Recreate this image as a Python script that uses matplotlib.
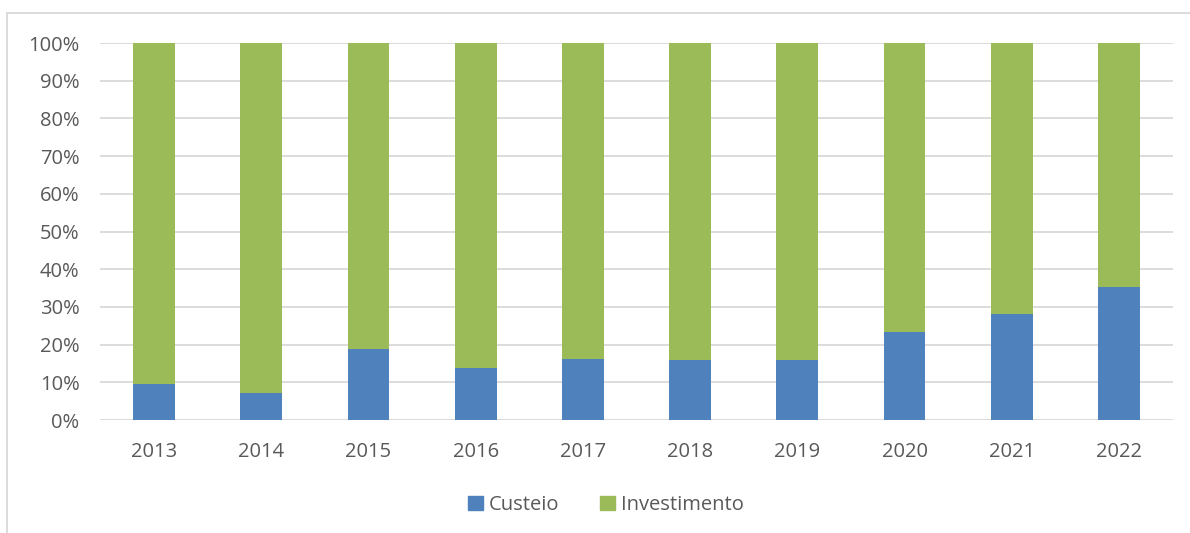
import matplotlib
matplotlib.use("Agg")
import matplotlib.pyplot as plt
from matplotlib.lines import Line2D
from matplotlib.patches import Patch
import numpy as np

years = ["2013", "2014", "2015", "2016", "2017", "2018", "2019", "2020", "2021", "2022"]
custeio = [9.6, 7.1, 18.8, 13.9, 16.1, 15.8, 16.0, 23.3, 28.2, 35.4]
investimento = [100 - c for c in custeio]

blue = "#4F81BD"
green = "#9BBB59"
text_color = "#595959"
grid_color = "#D9D9D9"

plt.rcParams['font.family'] = ['Open Sans', 'DejaVu Sans']

W, H = 1190, 533
fig = plt.figure(figsize=(W / 100, H / 100), dpi=100)
ax = fig.add_axes([100.4 / W, 1 - 420 / H, (1172.6 - 100.4) / W, (420 - 43) / H])

x = np.arange(len(years))
ax.bar(x, custeio, width=0.39, color=blue, label="Custeio", zorder=3)
ax.bar(x, investimento, width=0.39, bottom=custeio, color=green, label="Investimento", zorder=3)

ax.set_xlim(-0.5, len(years) - 0.5)
ax.set_ylim(0, 100)
ax.set_yticks(range(0, 101, 10))
ax.set_yticklabels([f"{v}%" for v in range(0, 101, 10)])
ax.set_xticks(x)
ax.set_xticklabels(years)
ax.yaxis.grid(True, color=grid_color, linewidth=1.3, zorder=0)
ax.set_axisbelow(True)
for s in ax.spines.values():
    s.set_visible(False)
ax.tick_params(axis='both', length=0, labelsize=14.5, colors=text_color)
ax.tick_params(axis='x', pad=16)
ax.tick_params(axis='y', pad=15)

handles = [Patch(color=blue, label="Custeio"), Patch(color=green, label="Investimento")]
fig.legend(handles=handles, loc='center', bbox_to_anchor=(606 / W, 1 - 505 / H), ncol=2,
           frameon=False, fontsize=14.5, labelcolor=text_color, handlelength=0.75,
           handleheight=0.75, handletextpad=0.3, columnspacing=2.0)

# outer chart border
fig.add_artist(Line2D([7 / W, 1.0], [1 - 13 / H, 1 - 13 / H], transform=fig.transFigure, color=grid_color, linewidth=1.3))
fig.add_artist(Line2D([7 / W, 7 / W], [0, 1 - 13 / H], transform=fig.transFigure, color=grid_color, linewidth=1.3))

fig.savefig("out.png", dpi=100)
